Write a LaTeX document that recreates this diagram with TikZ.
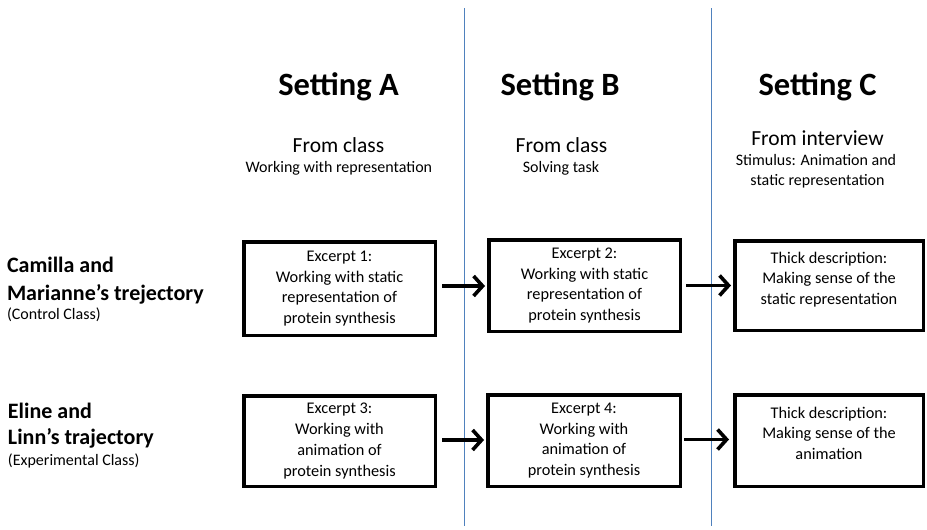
\documentclass[tikz,border=0pt]{standalone}
\usepackage{fontspec}
\setmainfont{Carlito}
\usetikzlibrary{arrows.meta}
\definecolor{divblue}{RGB}{79,129,189}
\tikzset{
  every node/.style={inner sep=0pt, outer sep=0pt},
  title/.style={font=\fontsize{32.5}{38}\selectfont\bfseries, anchor=base},
  sub/.style={font=\fontsize{21.5}{25}\selectfont, anchor=base},
  subsmall/.style={font=\fontsize{16}{20}\selectfont, anchor=base},
  who/.style={font=\fontsize{22}{27}\selectfont\bfseries, anchor=base west},
  whosmall/.style={font=\fontsize{16}{20}\selectfont, anchor=base west},
  excerpt/.style={draw, line width=3.5pt, outer sep=1.75pt, align=center,
    font=\fontsize{16.3}{20.7}\selectfont},
  arr/.style={line width=3.6pt, -{Straight Barb[length=9pt,width=20pt]}},
  divider/.style={draw=divblue, line width=1pt},
}
\begin{document}
\begin{tikzpicture}[x=1pt,y=-1pt]
\useasboundingbox (0,0) rectangle (927,530);

% dividers
\coordinate (d1t) at (464,8);
\coordinate (d1b) at (464,526);
\coordinate (d2t) at (711,8);
\coordinate (d2b) at (711,526);
\draw[divider] (d1t) -- (d1b);
\draw[divider] (d2t) -- (d2b);

% headers
\node[title] (ta) at (338.5,95) {Setting A};
\node[sub] (fa) at (338.5,152) {From class};
\node[subsmall] (wa) at (338.8,172) {Working with representation};
\node[title] (tb) at (560,95) {Setting B};
\node[sub] (fb) at (561.5,152) {From class};
\node[subsmall] (wb) at (561,172) {Solving task};
\node[title] (tc) at (817.5,95) {Setting C};
\node[sub] (fc) at (817.5,145) {From interview};
\node[subsmall] (sc1) at (816,165) {Stimulus: Animation and};
\node[subsmall] (sc2) at (817.5,185) {static representation};

% row labels
\node[who] (r1a) at (7,272) {Camilla and};
\node[who] (r1b) at (7,300) {Marianne’s trejectory};
\node[whosmall] (r1c) at (7,319) {(Control Class)};
\node[who] (r2a) at (8,418) {Eline and};
\node[who] (r2b) at (8,444) {Linn’s trajectory};
\node[whosmall] (r2c) at (8,465) {(Experimental Class)};

% boxes
\node[excerpt, minimum width=191.5pt, minimum height=93.5pt] (b1) at (339.5,288.5)
  {Excerpt 1:\\Working with static\\representation of\\protein synthesis};
\node[excerpt, minimum width=191.5pt, minimum height=91.5pt] (b2) at (584.5,285.5)
  {Excerpt 2:\\Working with static\\representation of\\protein synthesis};
\node[excerpt, minimum width=188.5pt, minimum height=89.5pt] (b3) at (829,285.5)
  {Thick description:\\Making sense of the\\static representation\\[-12pt]\strut};
\node[excerpt, minimum width=191.5pt, minimum height=90.5pt] (b4) at (339.5,441)
  {Excerpt 3:\\Working with\\animation of\\protein synthesis};
\node[excerpt, minimum width=192.5pt, minimum height=91.5pt] (b5) at (584,440.5)
  {Excerpt 4:\\Working with\\animation of\\protein synthesis};
\node[excerpt, minimum width=188.5pt, minimum height=91.5pt] (b6) at (829,440.5)
  {Thick description:\\Making sense of the\\animation\\[-12pt]\strut};

% arrows
\draw[arr] ([xshift=5pt,yshift=2.5pt]b1.east) -- ([xshift=-2pt,yshift=2.5pt]b1.east -| b2.west);
\draw[arr] ([xshift=4pt]b2.east) -- ([xshift=-2pt]b2.east -| b3.west);
\draw[arr] ([xshift=5pt,yshift=1pt]b4.east) -- ([xshift=-2pt,yshift=1pt]b4.east -| b5.west);
\draw[arr] ([xshift=2pt,yshift=1pt]b5.east) -- ([xshift=-4pt,yshift=1pt]b5.east -| b6.west);
\end{tikzpicture}
\end{document}
